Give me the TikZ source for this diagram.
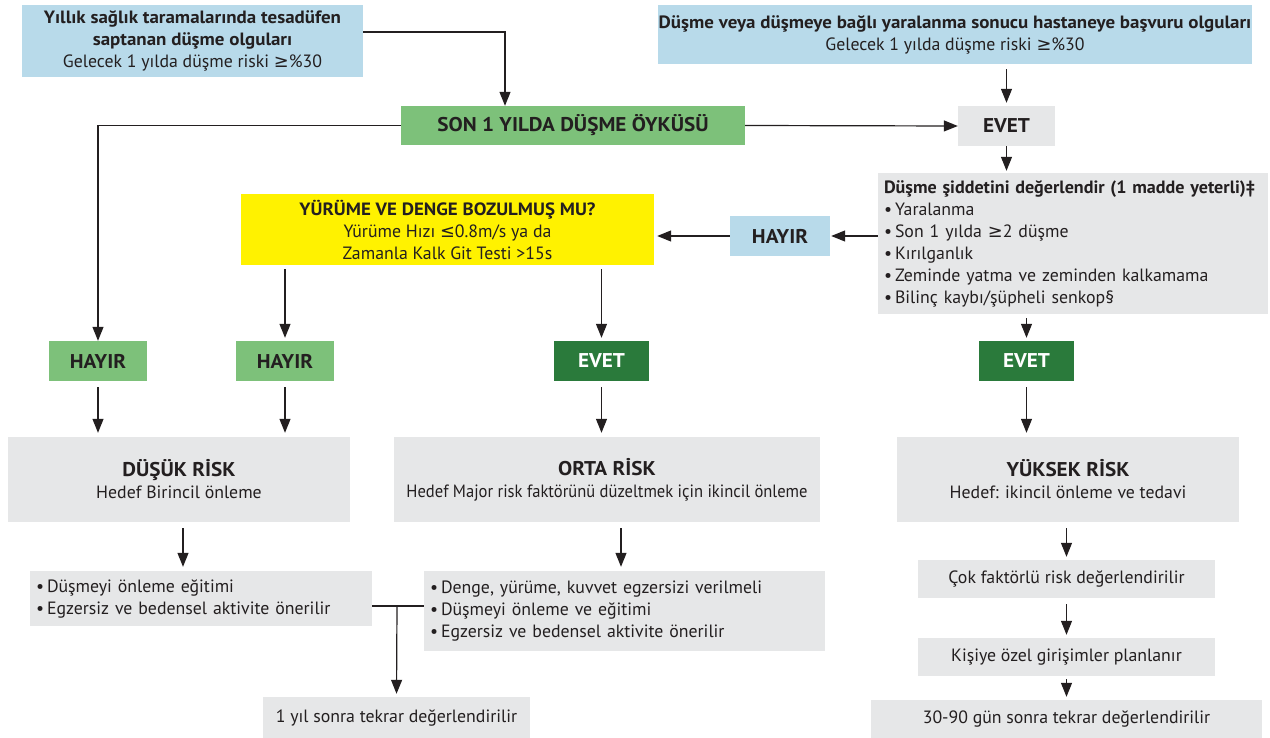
\documentclass[tikz,border=0pt]{standalone}
\usepackage{fontspec}
\setmainfont{PT Sans}[BoldFeatures={FakeStretch=1.065}]
\newfontfamily\symf{DejaVu Sans}
\newcommand{\geqs}{{\symf ≥}}
\newcommand{\leqs}{{\symf ≤}}
\usetikzlibrary{arrows.meta}
\definecolor{lblue}{HTML}{B8DAEA}
\definecolor{lgray}{HTML}{E6E7E8}
\definecolor{lgreen}{HTML}{7DC17A}
\definecolor{dgreen}{HTML}{2A7A3B}
\definecolor{yel}{HTML}{FFF200}
\definecolor{ink}{HTML}{231F20}
\tikzset{
  box/.style={rectangle, inner sep=0pt, align=center, text=ink,
    font=\fontsize{17.8}{22}\selectfont},
  capsfont/.style={font=\fontsize{19.9}{22}\selectfont\bfseries},
  bluebox/.style={box, fill=lblue},
  graybox/.style={box, fill=lgray},
  greenbox/.style={box, fill=lgreen, capsfont},
  darkbox/.style={box, fill=dgreen, text=white, capsfont},
  yelbox/.style={box, fill=yel},
  listbox/.style={box, fill=lgray, align=left, inner xsep=6pt},
  arr/.style={draw=ink, line width=1.2pt, -{Triangle[length=14pt,width=11pt]}},
  ln/.style={draw=ink, line width=1.2pt},
}
\newcommand{\caps}[1]{{\fontsize{19.9}{22}\selectfont\bfseries #1}}
\begin{document}
\begin{tikzpicture}[x=1pt,y=-1pt]
\useasboundingbox (0,0) rectangle (1270,738);

% entry boxes
\node[bluebox, minimum width=341pt, minimum height=72pt] (A) at (192.5,41)
  {\textbf{Yıllık sağlık taramalarında tesadüfen}\\\textbf{saptanan düşme olguları}\\Gelecek 1 yılda düşme riski \geqs\%30};
\node[bluebox, minimum width=594pt, minimum height=59pt] (B) at (955,34.5)
  {\textbf{Düşme veya düşmeye bağlı yaralanma sonucu hastaneye başvuru olguları}\\Gelecek 1 yılda düşme riski \geqs\%30};

% history question
\node[greenbox, minimum width=344pt, minimum height=39pt] (son) at (573,125.5) {SON 1 YILDA DÜŞME ÖYKÜSÜ};
\node[graybox, capsfont, minimum width=97pt, minimum height=40pt] (evet1) at (1006.5,126) {EVET};

% severity assessment
\node[listbox, text width=378pt, minimum height=141pt] (sev) at (1073,243.5)
  {\scalebox{0.955}[1]{\textbf{Düşme şiddetini değerlendir (1 madde yeterli)‡}}\\
   •\,Yaralanma\\
   •\,Son 1 yılda \geqs2 düşme\\
   •\,Kırılganlık\\
   •\,Zeminde yatma ve zeminden kalkamama\\
   •\,Bilinç kaybı/şüpheli senkop§};
\node[bluebox, capsfont, minimum width=100pt, minimum height=40pt] (hayirb) at (780,236) {HAYIR};

% gait and balance question
\node[yelbox, minimum width=413pt, minimum height=71pt] (gait) at (447.5,229.5)
  {\textbf{YÜRÜME VE DENGE BOZULMUŞ MU?}\\Yürüme Hızı \leqs0.8m/s ya da\\Zamanla Kalk Git Testi >15s};

% answers
\node[greenbox, minimum width=98pt, minimum height=40pt] (h1) at (98,361) {HAYIR};
\node[greenbox, minimum width=98pt, minimum height=40pt] (h2) at (285,361) {HAYIR};
\node[darkbox, minimum width=95pt, minimum height=40pt] (e2) at (601.5,361) {EVET};
\node[darkbox, minimum width=95pt, minimum height=40pt] (e3) at (1026.5,361) {EVET};

% risk levels
\node[graybox, minimum width=342pt, minimum height=85pt] (low) at (179,479.5)
  {\caps{DÜŞÜK RİSK}\\Hedef Birincil önleme};
\node[graybox, minimum width=426pt, minimum height=85pt] (mid) at (607,479.5)
  {\caps{ORTA RİSK}\\\scalebox{0.93}[1]{Hedef Major risk faktörünü düzeltmek için ikincil önleme}};
\node[graybox, minimum width=342pt, minimum height=85pt] (high) at (1068,479.5)
  {\caps{YÜKSEK RİSK}\\Hedef: ikincil önleme ve tedavi};

% interventions
\node[listbox, text width=330pt, minimum height=55pt] (l1) at (201,598.5)
  {•\,Düşmeyi önleme eğitimi\\•\,Egzersiz ve bedensel aktivite önerilir};
\node[listbox, text width=389pt, minimum height=80pt] (l2) at (624.5,611)
  {•\,Denge, yürüme, kuvvet egzersizi verilmeli\\•\,Düşmeyi önleme ve eğitimi\\•\,Egzersiz ve bedensel aktivite önerilir};
\node[graybox, minimum width=267pt, minimum height=41pt] (y1) at (396.5,717.5) {1 yıl sonra tekrar değerlendirilir};

\node[graybox, minimum width=297pt, minimum height=38pt] (r1) at (1066.5,579) {Çok faktörlü risk değerlendirilir};
\node[graybox, minimum width=297pt, minimum height=38pt] (r2) at (1066.5,657) {Kişiye özel girişimler planlanır};
\node[graybox, minimum width=391pt, minimum height=38pt] (r3) at (1066.5,719) {30-90 gün sonra tekrar değerlendirilir};

% connectors
\draw[arr] ([yshift=9pt]A.east) -| ([xshift=-68pt]son.north);
\draw[arr] (son.west) -| (h1.north);
\draw[arr] (son.east) -- (evet1.west);
\draw[arr, shorten <=5pt, shorten >=3pt] (evet1.north |- B.south) -- (evet1.north);
\draw[arr, shorten >=2pt] (evet1.south) -- (evet1.south |- sev.north);
\draw[arr, shorten >=1pt] (sev.west |- hayirb.east) -- (hayirb.east);
\draw[arr, shorten >=3pt] (hayirb.west) -- (gait.east |- hayirb.west);
\draw[arr, shorten <=4pt, shorten >=3pt] (h2.north |- gait.south) -- (h2.north);
\draw[arr, shorten <=4pt, shorten >=3pt] (e2.north |- gait.south) -- (e2.north);
\draw[arr, shorten <=4pt, shorten >=3pt] (e3.north |- sev.south) -- (e3.north);
\draw[arr, shorten <=6pt, shorten >=4pt] (h1.south) -- (h1.south |- low.north);
\draw[arr, shorten <=6pt, shorten >=4pt] (h2.south) -- (h2.south |- low.north);
\draw[arr, shorten <=6pt, shorten >=4pt] (e2.south) -- (e2.south |- mid.north);
\draw[arr, shorten <=6pt, shorten >=4pt] (e3.south) -- (e3.south |- high.north);
\draw[arr, shorten <=6pt, shorten >=4pt] ([xshift=4pt]low.south) -- ([xshift=4pt]low.south |- l1.north);
\draw[arr, shorten <=6pt, shorten >=4pt] ([xshift=14pt]mid.south) -- ([xshift=14pt]mid.south |- l2.north);
\draw[arr, shorten <=6pt, shorten >=3pt] (r1.north |- high.south) -- (r1.north);
\draw[arr, shorten <=6pt, shorten >=3pt] (r1.south) -- (r2.north);
\draw[arr, shorten <=3pt, shorten >=3pt] (r2.south) -- (r3.north);
\coordinate (jn) at (397,606);
\draw[ln] (l1.east |- jn) -- (l2.west |- jn);
\draw[arr, shorten >=3pt] (jn) -- (y1.north);
\end{tikzpicture}
\end{document}
